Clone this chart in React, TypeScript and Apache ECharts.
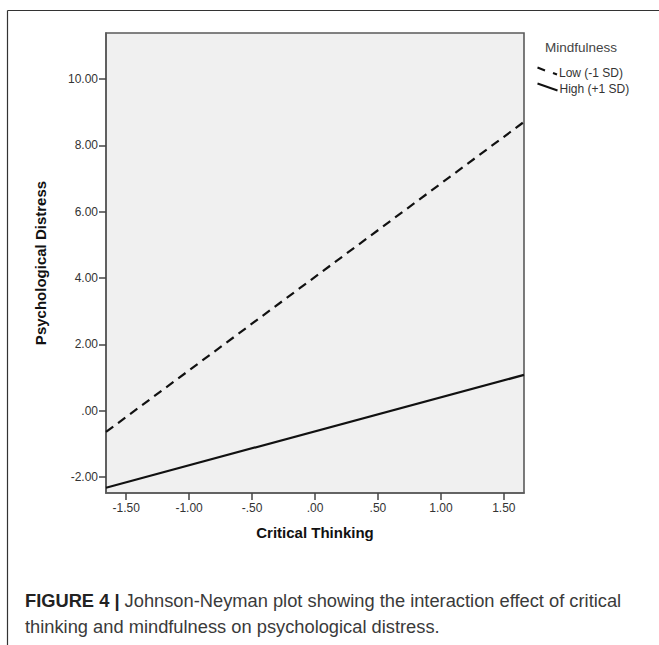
import React, { useEffect, useRef } from "react";
import * as echarts from "echarts";

// Data
const xRange = [-1.66, 1.66];
const lowMindfulness = [-0.64, 8.71]; // Low (-1 SD), dashed
const highMindfulness = [-2.32, 1.08]; // High (+1 SD), solid
const xTicks = [-1.5, -1.0, -0.5, 0, 0.5, 1.0, 1.5];
const yTicks = [-2, 0, 2, 4, 6, 8, 10];
const yRange = [-2.48, 11.39];
const seriesNames = ["Low (-1 SD)", "High (+1 SD)"];

const fmt = (v: number) => {
  let s = Math.abs(v).toFixed(2);
  if (s.startsWith("0")) s = s.slice(1);
  return (v < 0 ? "-" : "") + s;
};

const FONT = "'Liberation Sans', Arial, Helvetica, sans-serif";

export default function App() {
  const ref = useRef<HTMLDivElement>(null);
  useEffect(() => {
    if (!ref.current) return;
    const chart = echarts.init(ref.current, null, { renderer: "svg" });
    const toPts = (ys: number[]) => xRange.map((x, i) => [x, ys[i]]);
    chart.setOption({
      animation: false,
      backgroundColor: "#ffffff",
      textStyle: { fontFamily: FONT },
      grid: {
        left: 106,
        right: 135,
        top: 33,
        bottom: 152,
        show: true,
        backgroundColor: "#f0f0f0",
        borderColor: "#5a5a5a",
        borderWidth: 1.6,
      },
      xAxis: {
        type: "value",
        min: xRange[0],
        max: xRange[1],
        name: "Critical Thinking",
        nameLocation: "middle",
        nameGap: 32,
        nameTextStyle: { fontFamily: FONT, fontWeight: "bold", fontSize: 15, color: "#111" },
        axisLine: { show: true, onZero: false, lineStyle: { color: "#5a5a5a", width: 1.6 } },
        axisTick: { show: true, length: 7, customValues: xTicks, lineStyle: { color: "#444", width: 1.5 } },
        axisLabel: { customValues: xTicks, formatter: fmt, margin: 9, fontSize: 12, color: "#333", fontFamily: FONT },
        splitLine: { show: false },
      },
      yAxis: {
        type: "value",
        min: yRange[0],
        max: yRange[1],
        name: "Psychological Distress",
        nameLocation: "middle",
        nameGap: 58,
        nameTextStyle: { fontFamily: FONT, fontWeight: "bold", fontSize: 15, color: "#111" },
        axisLine: { show: true, onZero: false, lineStyle: { color: "#5a5a5a", width: 1.6 } },
        axisTick: { show: true, length: 7, customValues: yTicks, lineStyle: { color: "#444", width: 1.5 } },
        axisLabel: { customValues: yTicks, formatter: fmt, margin: 8, fontSize: 12, color: "#333", fontFamily: FONT },
        splitLine: { show: false },
      },
      series: [
        {
          name: seriesNames[0],
          type: "line",
          data: toPts(lowMindfulness),
          showSymbol: false,
          symbol: "none",
          lineStyle: { color: "#111", width: 2.2, type: [9, 6] },
          silent: true,
        },
        {
          name: seriesNames[1],
          type: "line",
          data: toPts(highMindfulness),
          showSymbol: false,
          symbol: "none",
          lineStyle: { color: "#111", width: 2.2, type: "solid" },
          silent: true,
        },
      ],
      graphic: [
        // outer frame
        { type: "line", shape: { x1: 7.5, y1: 10.5, x2: 659, y2: 10.5 }, style: { stroke: "#333", lineWidth: 1.2 } },
        { type: "line", shape: { x1: 7.5, y1: 10.5, x2: 7.5, y2: 645 }, style: { stroke: "#333", lineWidth: 1.2 } },
        // legend
        {
          type: "text", x: 545, y: 47.5,
          style: { text: "Mindfulness", font: `13.5px ${FONT}`, fill: "#444", verticalAlign: "middle" },
        },
        { type: "line", shape: { x1: 537.5, y1: 67.5, x2: 545, y2: 70.5 }, style: { stroke: "#111", lineWidth: 2 } },
        { type: "line", shape: { x1: 553, y1: 73, x2: 557, y2: 74.5 }, style: { stroke: "#111", lineWidth: 2 } },
        {
          type: "text", x: 559, y: 72.5,
          style: { text: seriesNames[0], font: `12px ${FONT}`, fill: "#333", verticalAlign: "middle" },
        },
        { type: "line", shape: { x1: 537.5, y1: 83.5, x2: 557.5, y2: 90.5 }, style: { stroke: "#111", lineWidth: 2 } },
        {
          type: "text", x: 559.5, y: 89,
          style: { text: seriesNames[1], font: `12px ${FONT}`, fill: "#333", verticalAlign: "middle" },
        },
        // caption
        {
          type: "text", x: 25, y: 600,
          style: {
            text: "{b|FIGURE 4 |} Johnson-Neyman plot showing the interaction effect of critical",
            font: `18.3px ${FONT}`, fill: "#3a3a3a", verticalAlign: "middle",
            rich: { b: { font: `bold 18.3px ${FONT}`, fill: "#222" } },
          },
        },
        {
          type: "text", x: 25, y: 626,
          style: {
            text: "thinking and mindfulness on psychological distress.",
            font: `18.3px ${FONT}`, fill: "#3a3a3a", verticalAlign: "middle",
          },
        },
      ],
    });
    return () => chart.dispose();
  }, []);
  return (
    <div
      ref={ref}
      style={{ position: "absolute", left: 0, top: 0, width: 659, height: 645 }}
    />
  );
}
